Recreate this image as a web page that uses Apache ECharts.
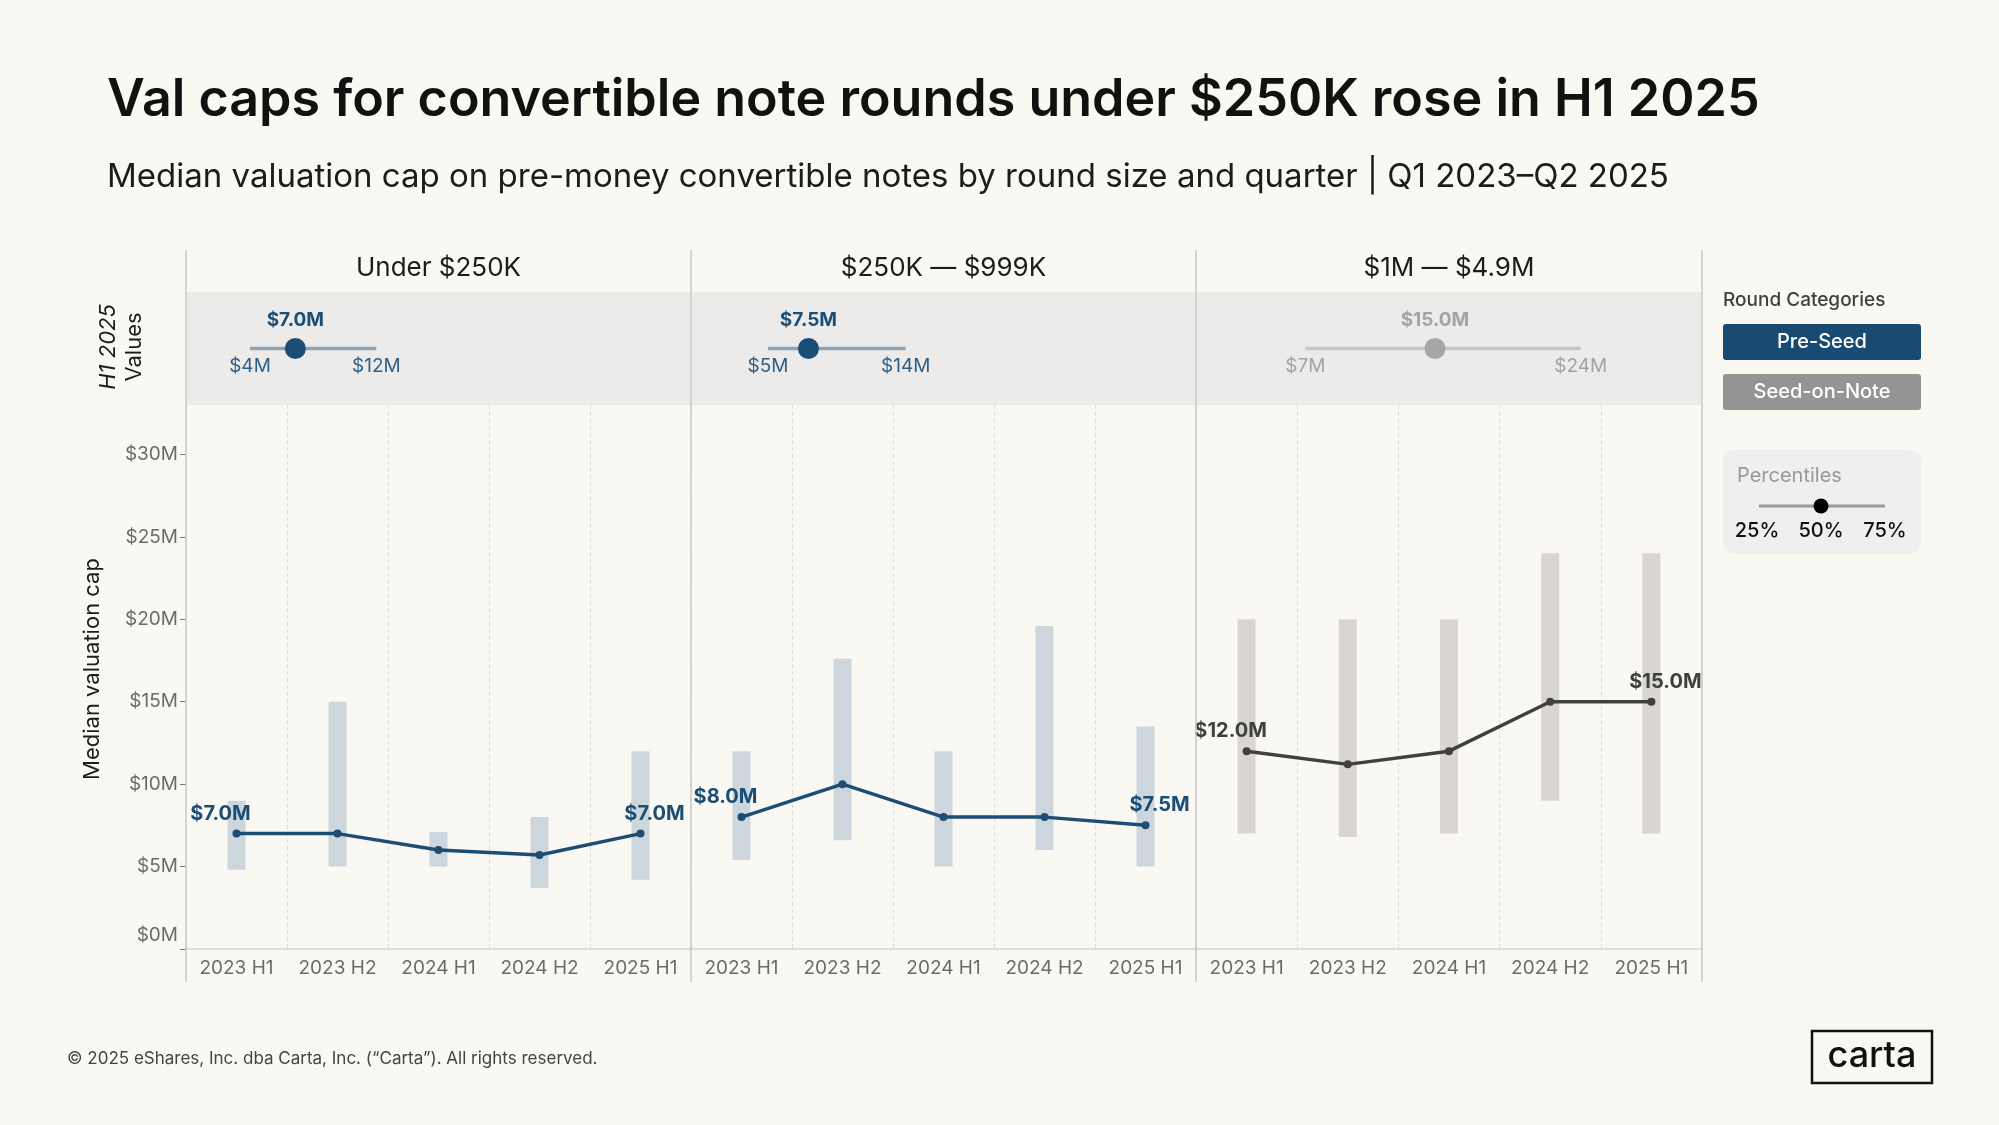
<!DOCTYPE html>
<html><head><meta charset="utf-8">
<script src="https://cdn.jsdelivr.net/npm/echarts@6/dist/echarts.min.js"></script>
<style>html,body{margin:0;padding:0;background:#faf8f3;}#c{width:1999px;height:1125px;}</style>
</head><body><div id="c"></div>
<script>
// ---------- data ----------
const periods = ['2023 H1','2023 H2','2024 H1','2024 H2','2025 H1'];
const panelTitles = ['Under $250K','$250K — $999K','$1M — $4.9M'];
const median_u250 = [7.0, 7.0, 6.0, 5.7, 7.0];
const p25_u250    = [4.8, 5.0, 5.0, 3.7, 4.2];
const p75_u250    = [9.0, 15.0, 7.1, 8.0, 12.0];
const median_250k = [8.0, 10.0, 8.0, 8.0, 7.5];
const p25_250k    = [5.4, 6.6, 5.0, 6.0, 5.0];
const p75_250k    = [12.0, 17.6, 12.0, 19.6, 13.5];
const median_1m   = [12.0, 11.2, 12.0, 15.0, 15.0];
const p25_1m      = [7.0, 6.8, 7.0, 9.0, 7.0];
const p75_1m      = [20.0, 20.0, 20.0, 24.0, 24.0];
const yTicks = [0, 5, 10, 15, 20, 25, 30];
const roundCategories = ['Pre-Seed', 'Seed-on-Note'];
const percentileLabels = ['25%', '50%', '75%'];

// ---------- styling / layout ----------
const FONT = 'Inter, "Noto Sans", sans-serif';
const panelX = [186, 691, 1196, 1702];
const bandTop = 292, bandBottom = 405, plotBottom = 949;
const panels = [
  {median: median_u250, p25: p25_u250, p75: p75_u250, line:'#1b4d75', bar:'#cdd6dc', sl:'#8ea4b5', dot:'#1b4d75', lab:'#2d5f88', medLab:'#1b4d75'},
  {median: median_250k, p25: p25_250k, p75: p75_250k, line:'#1b4d75', bar:'#cdd6dc', sl:'#8ea4b5', dot:'#1b4d75', lab:'#2d5f88', medLab:'#1b4d75'},
  {median: median_1m,   p25: p25_1m,   p75: p75_1m,   line:'#404040', bar:'#d9d6d2', sl:'#c6c6c6', dot:'#a6a6a6', lab:'#a3a3a3', medLab:'#a3a3a3'}
];
const fmtM1 = v => '$' + v.toFixed(1) + 'M';
const fmtM0 = v => '$' + Math.round(v) + 'M';

const grid = [], xAxis = [], yAxis = [], series = [], graphic = [];
panels.forEach((p, i) => {
  const left = panelX[i], width = panelX[i+1] - panelX[i];
  // main plot grid
  grid.push({left, width, top: bandBottom, height: plotBottom - bandBottom});
  xAxis.push({
    gridIndex: 2*i, type: 'category', data: periods, boundaryGap: true,
    axisLine: {show: true, lineStyle: {color: '#d3d3d3', width: 1.5}},
    axisTick: {show: false},
    axisLabel: {interval: 0, color: '#6b6b6b', fontSize: 19, fontFamily: FONT, margin: 10},
    splitLine: {show: true, interval: 0, lineStyle: {color: '#dedcd8', type: [4, 3], width: 1}}
  });
  yAxis.push({
    gridIndex: 2*i, type: 'value', min: 0, max: 33, interval: 5,
    show: i === 0,
    axisLine: {show: false},
    axisTick: {show: true, length: 6, lineStyle: {color: '#777'}, customValues: yTicks},
    axisLabel: {
      customValues: yTicks, color: '#6b6b6b', fontSize: 19, fontFamily: FONT, margin: 8,
      formatter: v => v === 0 ? '{z|$0M}' : '$' + v + 'M',
      rich: {z: {color: '#6b6b6b', fontSize: 19, fontFamily: FONT, padding: [0, 0, 28, 0]}}
    },
    splitLine: {show: false}
  });
  // header band grid
  grid.push({left, width, top: bandTop, height: bandBottom - bandTop, show: true,
             backgroundColor: '#edebea', borderWidth: 0});
  xAxis.push({gridIndex: 2*i+1, type: 'value', min: 0.25, max: width / 16.2 + 0.25, show: false});
  yAxis.push({gridIndex: 2*i+1, type: 'value', min: -1, max: 1, show: false});

  // range bars
  series.push({type: 'bar', xAxisIndex: 2*i, yAxisIndex: 2*i, stack: 'r' + i, barWidth: 18,
    silent: true, itemStyle: {color: 'rgba(0,0,0,0)'}, data: p.p25});
  series.push({type: 'bar', xAxisIndex: 2*i, yAxisIndex: 2*i, stack: 'r' + i, barWidth: 18,
    silent: true, itemStyle: {color: p.bar}, data: p.p75.map((v, k) => +(v - p.p25[k]).toFixed(2))});
  // median line
  const n = p.median.length;
  series.push({type: 'line', xAxisIndex: 2*i, yAxisIndex: 2*i, z: 5,
    symbol: 'circle', symbolSize: 8, lineStyle: {color: p.line, width: 3.5}, itemStyle: {color: p.line},
    data: p.median.map((v, k) => {
      if (k === 0 || k === n - 1) {
        return {value: v, label: {show: true, position: 'top', distance: 6,
          offset: [k === 0 ? -16 : 14, 0], formatter: fmtM1(v),
          color: p.line, fontWeight: 'bold', fontSize: 20, fontFamily: FONT}};
      }
      return v;
    })
  });
  // header slider (latest period)
  const lo = p.p25[n-1], hi = p.p75[n-1], md = p.median[n-1];
  series.push({type: 'line', xAxisIndex: 2*i+1, yAxisIndex: 2*i+1, symbol: 'none', silent: true,
    lineStyle: {color: p.sl, width: 3.5}, data: [[lo, 0], [hi, 0]]});
  series.push({type: 'scatter', xAxisIndex: 2*i+1, yAxisIndex: 2*i+1, symbolSize: 0.1, silent: true,
    itemStyle: {color: p.sl, opacity: 1},
    label: {show: true, position: 'bottom', distance: 8, color: p.lab, fontSize: 19, fontFamily: FONT,
      formatter: q => fmtM0(q.value[0])},
    data: [[lo, 0], [hi, 0]]});
  series.push({type: 'scatter', xAxisIndex: 2*i+1, yAxisIndex: 2*i+1, symbolSize: 21, silent: true, z: 4,
    itemStyle: {color: p.dot, opacity: 1},
    label: {show: true, position: 'top', distance: 8, color: p.medLab, fontSize: 19, fontWeight: 'bold',
      fontFamily: FONT, formatter: q => fmtM1(q.value[0])},
    data: [[md, 0]]});

  graphic.push({type: 'text', x: (panelX[i] + panelX[i+1]) / 2, y: 268,
    style: {text: panelTitles[i], fill: '#1c1c1c', fontSize: 26, fontFamily: FONT,
      align: 'center', verticalAlign: 'middle'}});
});

// panel frame lines
panelX.forEach(x => graphic.push({type: 'line', z: 100, shape: {x1: x, y1: 250, x2: x, y2: 982},
  style: {stroke: '#c8c8c8', lineWidth: 1.5}}));

// titles
graphic.push({type: 'text', x: 107, y: 100, style: {text: 'Val caps for convertible note rounds under $250K rose in H1 2025',
  fill: '#111', fontSize: 52, fontWeight: 600, fontFamily: FONT, verticalAlign: 'middle'}});
graphic.push({type: 'text', x: 107, y: 177, style: {text: 'Median valuation cap on pre-money convertible notes by round size and quarter | Q1 2023–Q2 2025',
  fill: '#1c1c1c', fontSize: 33, fontFamily: FONT, verticalAlign: 'middle'}});

// axis titles
graphic.push({type: 'text', x: 92, y: 669, rotation: Math.PI / 2,
  style: {text: 'Median valuation cap', fill: '#1c1c1c', fontSize: 22, fontFamily: FONT, align: 'center', verticalAlign: 'middle'}});
graphic.push({type: 'text', x: 108, y: 347, rotation: Math.PI / 2,
  style: {text: 'H1 2025', fill: '#1c1c1c', fontSize: 22, fontStyle: 'italic', fontFamily: FONT, align: 'center', verticalAlign: 'middle'}});
graphic.push({type: 'text', x: 134, y: 347, rotation: Math.PI / 2,
  style: {text: 'Values', fill: '#1c1c1c', fontSize: 22, fontFamily: FONT, align: 'center', verticalAlign: 'middle'}});

// legend: round categories
graphic.push({type: 'text', x: 1723, y: 300, style: {text: 'Round Categories', fill: '#404040', fontSize: 19, fontWeight: 500, fontFamily: FONT, verticalAlign: 'middle'}});
const btnColors = ['#184a72', '#949494'];
roundCategories.forEach((t, k) => {
  const y = 324 + k * 50;
  graphic.push({type: 'rect', shape: {x: 1723, y, width: 198, height: 36, r: 3}, style: {fill: btnColors[k]}});
  graphic.push({type: 'text', x: 1822, y: y + 18, style: {text: t, fill: '#fff', fontSize: 20, fontWeight: 500, fontFamily: FONT, align: 'center', verticalAlign: 'middle'}});
});
// legend: percentiles
graphic.push({type: 'rect', shape: {x: 1723, y: 450, width: 198, height: 104, r: 12}, style: {fill: '#efefef'}});
graphic.push({type: 'text', x: 1737, y: 476, style: {text: 'Percentiles', fill: '#999', fontSize: 20, fontFamily: FONT, verticalAlign: 'middle'}});
graphic.push({type: 'line', shape: {x1: 1759, y1: 506, x2: 1885, y2: 506}, style: {stroke: '#9a9a9a', lineWidth: 3}});
graphic.push({type: 'circle', shape: {cx: 1821, cy: 506, r: 7.5}, style: {fill: '#000'}});
percentileLabels.forEach((t, k) => graphic.push({type: 'text', x: 1757 + k * 64, y: 531,
  style: {text: t, fill: '#111', fontSize: 20, fontWeight: 500, fontFamily: FONT, align: 'center', verticalAlign: 'middle'}}));

// footer
graphic.push({type: 'text', x: 67, y: 1059, style: {text: '© 2025 eShares, Inc. dba Carta, Inc. (“Carta”). All rights reserved.',
  fill: '#444', fontSize: 17, fontFamily: FONT, verticalAlign: 'middle'}});
graphic.push({type: 'rect', shape: {x: 1812, y: 1031, width: 120, height: 52}, style: {fill: 'none', stroke: '#111', lineWidth: 2.5}});
graphic.push({type: 'text', x: 1872, y: 1056, style: {text: 'carta', fill: '#111', fontSize: 36, fontWeight: 500, fontFamily: FONT, align: 'center', verticalAlign: 'middle'}});

const chart = echarts.init(document.getElementById('c'));
chart.setOption({
  backgroundColor: '#faf8f3',
  animation: false,
  grid, xAxis, yAxis, series, graphic
});
</script></body></html>
